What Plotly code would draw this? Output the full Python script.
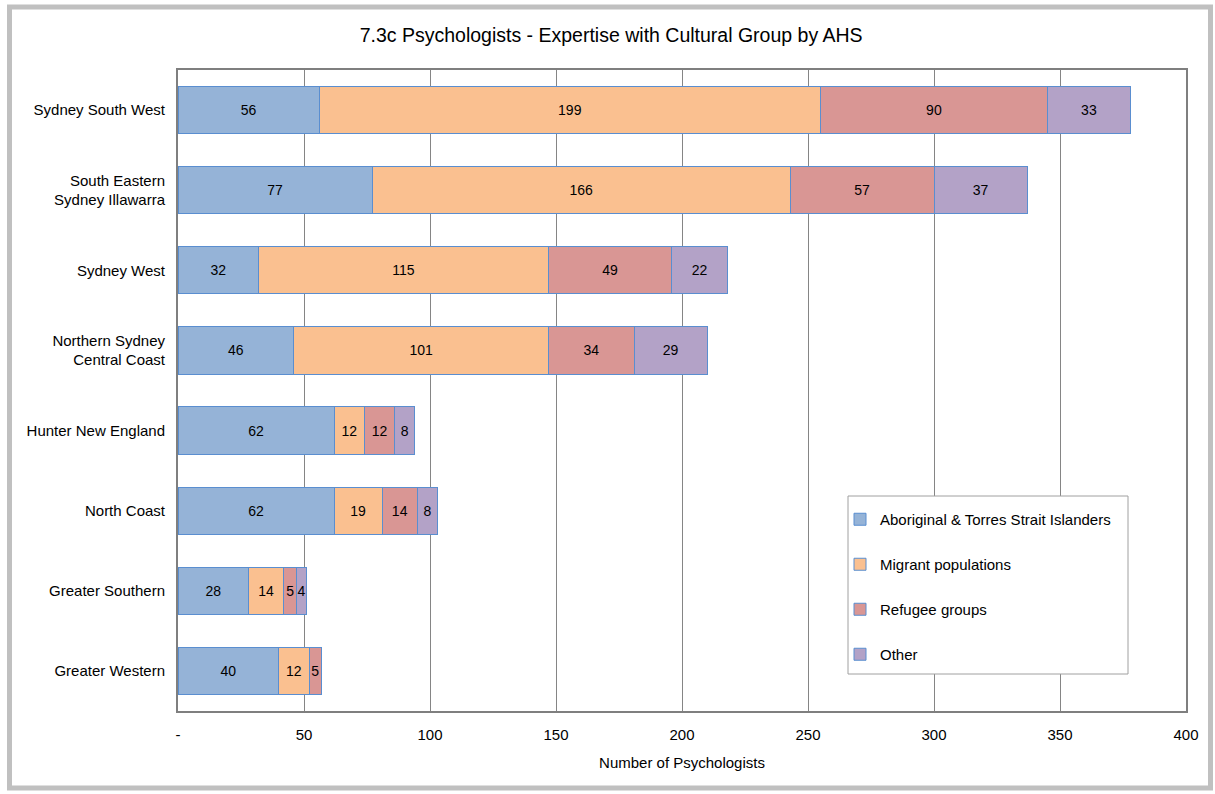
import plotly.graph_objects as go

regions = ["Sydney South West", "South Eastern<br>Sydney Illawarra", "Sydney West",
           "Northern Sydney<br>Central Coast", "Hunter New England", "North Coast",
           "Greater Southern", "Greater Western"]
aboriginal = [56, 77, 32, 46, 62, 62, 28, 40]
migrant = [199, 166, 115, 101, 12, 19, 14, 12]
refugee = [90, 57, 49, 34, 12, 14, 5, 5]
other = [33, 37, 22, 29, 8, 8, 4, None]

series_names = ["Aboriginal & Torres Strait Islanders", "Migrant populations",
                "Refugee groups", "Other"]
colors = ["#95B3D7", "#FAC090", "#D99694", "#B3A2C7"]
tick_vals = [0, 50, 100, 150, 200, 250, 300, 350, 400]
tick_text = ["-", "50", "100", "150", "200", "250", "300", "350", "400"]

FONT = "Liberation Sans, Arial, sans-serif"

# plot area in pixels
L, R, T, B = 178, 1186, 70, 711
W, H = R - L, B - T

def px(x):
    return (x - L) / W

def py(y):
    return (B - y) / H

fig = go.Figure()
for i, (name, vals) in enumerate(zip(series_names, [aboriginal, migrant, refugee, other])):
    fig.add_trace(go.Bar(
        y=regions, x=vals, name=name, orientation="h",
        marker=dict(color=colors[i], line=dict(color="#5A8ED0", width=1)),
        text=[("" if v is None else str(v)) for v in vals],
        textposition="inside", insidetextanchor="middle", textangle=0,
        textfont=dict(size=14, color="#000000", family=FONT),
        legendgroup=str(i), hoverinfo="x+name",
    ))

fig.update_layout(
    barmode="stack",
    bargap=0.41,
    width=1215, height=794,
    margin=dict(l=L, r=1215 - R, t=T, b=794 - B),
    paper_bgcolor="white", plot_bgcolor="white",
    font=dict(family=FONT, color="#000000", size=15),
    title=dict(text="7.3c Psychologists - Expertise with Cultural Group by AHS",
               x=0.503, xanchor="center", y=0.956, yanchor="middle",
               font=dict(size=19.5, family=FONT, color="#000000")),
    uniformtext=dict(minsize=14, mode="show"),
    legend=dict(x=px(840), y=py(503), xanchor="left", yanchor="top",
                bgcolor="rgba(0,0,0,0)", borderwidth=0,
                font=dict(size=15, family=FONT, color="#000000"),
                traceorder="grouped", tracegroupgap=22.5,
                itemwidth=30),
    xaxis=dict(range=[0, 400], tickvals=tick_vals, ticktext=tick_text,
               showgrid=True, gridcolor="#858585", gridwidth=1,
               showline=True, linecolor="#7F7F7F", linewidth=2, mirror=True,
               zeroline=False, ticks="", ticklabelstandoff=9,
               tickfont=dict(size=15),
               title=dict(text="Number of Psychologists", font=dict(size=15), standoff=15)),
    yaxis=dict(autorange="reversed", showline=True, linecolor="#7F7F7F", linewidth=2,
               mirror=True, ticks="", ticklabelstandoff=8, tickfont=dict(size=15)),
    shapes=[
        dict(type="rect", xref="paper", yref="paper",
             x0=px(9.5), x1=px(1210.5), y0=py(788), y1=py(7),
             line=dict(color="#C0C0C0", width=5), fillcolor="rgba(0,0,0,0)",
             layer="below"),
        dict(type="rect", xref="paper", yref="paper",
             x0=px(848), x1=px(1128), y0=py(674), y1=py(496),
             line=dict(color="#A0A0A0", width=1), fillcolor="white",
             layer="above"),
    ],
)

fig.write_html("out.html", config={"displayModeBar": False},
               post_script="document.body.style.margin='0';document.body.style.overflow='hidden';")
